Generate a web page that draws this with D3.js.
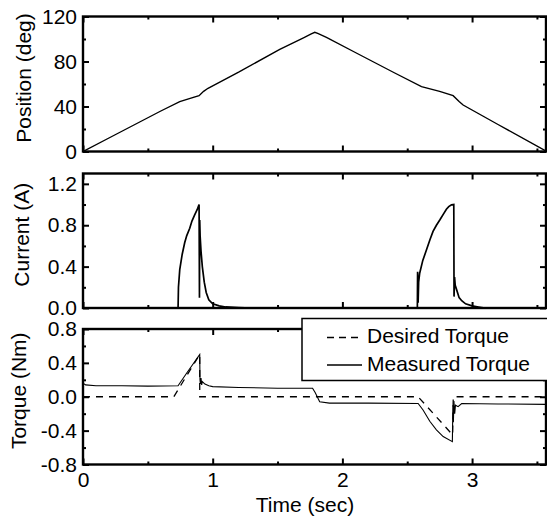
<!DOCTYPE html>
<html>
<head>
<meta charset="utf-8">
<script src="https://cdn.jsdelivr.net/npm/d3@7"></script>
<style>
  body { margin: 0; background: #fff; }
  svg text { font-family: "Liberation Sans", Arial, sans-serif; font-size: 21px; fill: #000; }
</style>
</head>
<body>
<div id="chart"></div>
<script>
// values
const posTime = [0, 0.2, 0.4, 0.6, 0.746, 0.82, 0.895, 0.93, 0.964, 1.2, 1.517, 1.7, 1.76, 1.787, 1.81, 1.877, 2.1, 2.4, 2.61, 2.75, 2.854, 2.9, 2.931, 3.2, 3.568];
const posDeg  = [0, 12, 24, 36, 44.3, 47, 49.6, 53.5, 56.2, 70.5, 90.8, 101, 104.5, 106, 105, 101.5, 88, 70, 57.6, 53.5, 49.6, 44.5, 41.3, 24, 0.5];

const curTime = [0, 0.733, 0.736, 0.746, 0.765, 0.784, 0.8, 0.823, 0.84, 0.861, 0.88, 0.895, 0.898, 0.9, 0.903, 0.91, 0.92, 0.935, 0.95, 0.97, 1.0, 1.05, 1.1, 1.2, 1.3,
                 2.578, 2.58, 2.584, 2.588, 2.596, 2.62, 2.648, 2.675, 2.699, 2.725, 2.751, 2.78, 2.802, 2.82, 2.841, 2.859, 2.861, 2.865, 2.87, 2.88, 2.9, 2.92, 2.95, 3.0, 3.05, 3.1, 3.568];
const curAmp  = [0, 0, 0.2, 0.37, 0.52, 0.63, 0.7, 0.77, 0.84, 0.9, 0.95, 1.0, 0.1, 0.85, 0.7, 0.55, 0.4, 0.25, 0.15, 0.08, 0.04, 0.02, 0.01, 0.005, 0,
                 0, 0.35, 0.05, 0.25, 0.336, 0.46, 0.56, 0.66, 0.74, 0.8, 0.85, 0.91, 0.955, 0.98, 0.997, 1.0, 0.11, 0.3, 0.22, 0.18, 0.1, 0.07, 0.04, 0.02, 0.01, 0, 0];

const desTime   = [0, 0.7, 0.9, 0.9, 2.584, 2.85, 2.855, 3.568];
const desTorque = [0, 0, 0.5, 0, 0, -0.45, 0, 0];

const measTime   = [0, 0.02, 0.1, 0.3, 0.5, 0.733, 0.8, 0.85, 0.9, 0.902, 0.905, 0.91, 0.915, 0.92, 0.94, 0.97, 1.0, 1.2, 1.5, 1.77, 1.79, 1.825, 1.9, 2.2, 2.584, 2.622, 2.674, 2.725, 2.777, 2.848, 2.852, 2.856, 2.86, 2.866, 2.872, 2.892, 2.92, 3.2, 3.568];
const measTorque = [0.16, 0.14, 0.13, 0.13, 0.125, 0.13, 0.28, 0.39, 0.5, 0.2, 0.15, 0.22, 0.14, 0.18, 0.15, 0.13, 0.12, 0.11, 0.1, 0.1, 0.05, -0.06, -0.075, -0.075, -0.08, -0.156, -0.29, -0.39, -0.47, -0.53, -0.1, -0.3, -0.05, -0.2, -0.1, -0.117, -0.08, -0.085, -0.09];

const timeTicks = [0, 1, 2, 3];
const timeMinor = [0.5, 1.5, 2.5, 3.5];
const posTicks = [0, 40, 80, 120];
const posMinor = [20, 60, 100];
const curTicks = [0, 0.4, 0.8, 1.2];
const curMinor = [0.2, 0.6, 1.0];
const torqueTicks = [-0.8, -0.4, 0, 0.4, 0.8];
const torqueMinor = [-0.6, -0.2, 0.2, 0.6];
const legendNames = ['Desired Torque', 'Measured Torque'];

const width = 547, height = 519;
const left = 83, right = 546;

const svg = d3.select('#chart')
  .append('svg')
    .attr('width', width)
    .attr('height', height);

const x = d3.scaleLinear()
  .domain([0, 3.57])
  .range([left, right]);

const panels = [
  { name: 'pos', label: 'Position (deg)', top: 16.5, bottom: 151.5, domain: [0, 120], ticks: posTicks, minor: posMinor, fmt: d => d, labelX: 31 },
  { name: 'cur', label: 'Current (A)', top: 173.5, bottom: 308, domain: [0, 1.3], ticks: curTicks, minor: curMinor, fmt: d => d.toFixed(1), labelX: 29 },
  { name: 'tq', label: 'Torque (Nm)', top: 329, bottom: 464.5, domain: [-0.8, 0.8], ticks: torqueTicks, minor: torqueMinor, fmt: d => d.toFixed(1), labelX: 26 }
];

panels.forEach((p, i) => {
  p.y = d3.scaleLinear().domain(p.domain).range([p.bottom, p.top]);
  const g = svg.append('g');

  g.append('clipPath')
      .attr('id', 'clip-' + p.name)
    .append('rect')
      .attr('x', left)
      .attr('y', p.top)
      .attr('width', right - left)
      .attr('height', p.bottom - p.top);

  // ticks on all four sides, pointing in
  const axes = [
    [d3.axisLeft(p.y).tickValues(p.ticks).tickSize(-6).tickPadding(6).tickFormat(p.fmt), left, 0],
    [d3.axisLeft(p.y).tickValues(p.minor).tickSize(-3).tickFormat(''), left, 0],
    [d3.axisRight(p.y).tickValues(p.ticks).tickSize(-6).tickFormat(''), right, 0],
    [d3.axisRight(p.y).tickValues(p.minor).tickSize(-3).tickFormat(''), right, 0],
    [d3.axisTop(x).tickValues(timeTicks).tickSize(-6).tickFormat(''), 0, p.top],
    [d3.axisTop(x).tickValues(timeMinor).tickSize(-3).tickFormat(''), 0, p.top],
    [d3.axisBottom(x).tickValues(timeTicks).tickSize(-6).tickPadding(8).tickFormat(i === 2 ? d => d : ''), 0, p.bottom],
    [d3.axisBottom(x).tickValues(timeMinor).tickSize(-3).tickFormat(''), 0, p.bottom]
  ];
  axes.forEach(([ax, tx, ty]) => {
    const a = g.append('g')
        .attr('transform', `translate(${tx},${ty})`)
        .call(ax);
    a.select('.domain').remove();
    a.selectAll('line').attr('stroke', '#000').attr('stroke-width', 2);
    a.selectAll('text').attr('font-size', null).attr('font-family', null);
  });

  g.append('rect')
      .attr('x', left)
      .attr('y', p.top)
      .attr('width', right - left)
      .attr('height', p.bottom - p.top)
      .attr('fill', 'none')
      .attr('stroke', '#000')
      .attr('stroke-width', 2.4);

  g.append('text')
      .attr('transform', `translate(${p.labelX},${(p.top + p.bottom) / 2 - 6}) rotate(-90)`)
      .attr('text-anchor', 'middle')
      .text(p.label);
});

function drawLine(panel, ts, vs, dash, sw) {
  const line = d3.line()
    .x(d => x(d[0]))
    .y(d => panel.y(d[1]));
  svg.append('path')
      .datum(d3.zip(ts, vs))
      .attr('clip-path', `url(#clip-${panel.name})`)
      .attr('d', line)
      .attr('fill', 'none')
      .attr('stroke', '#000')
      .attr('stroke-width', sw)
      .attr('stroke-dasharray', dash);
}

drawLine(panels[0], posTime, posDeg, null, 1.4);
drawLine(panels[1], curTime, curAmp, null, 1.7);
drawLine(panels[2], desTime, desTorque, '7,6', 1.3);
drawLine(panels[2], measTime, measTorque, null, 1.1);

// x axis title
svg.append('text')
    .attr('x', 305)
    .attr('y', 512)
    .attr('text-anchor', 'middle')
    .text('Time (sec)');

// legend, covering part of the torque frame
const legend = svg.append('g');
legend.append('rect')
    .attr('x', 302)
    .attr('y', 318.5)
    .attr('width', 250)
    .attr('height', 62)
    .attr('fill', '#fff')
    .attr('stroke', '#000')
    .attr('stroke-width', 1.5);

legendNames.forEach((name, i) => {
  const ly = 337.5 + i * 27.5;
  legend.append('line')
      .attr('x1', 327)
      .attr('x2', 362)
      .attr('y1', ly)
      .attr('y2', ly)
      .attr('stroke', '#000')
      .attr('stroke-width', 1.3)
      .attr('stroke-dasharray', i === 0 ? '7,5' : null);
  legend.append('text')
      .attr('x', 367)
      .attr('y', ly + 5.5)
      .text(name);
});
</script>
</body>
</html>
